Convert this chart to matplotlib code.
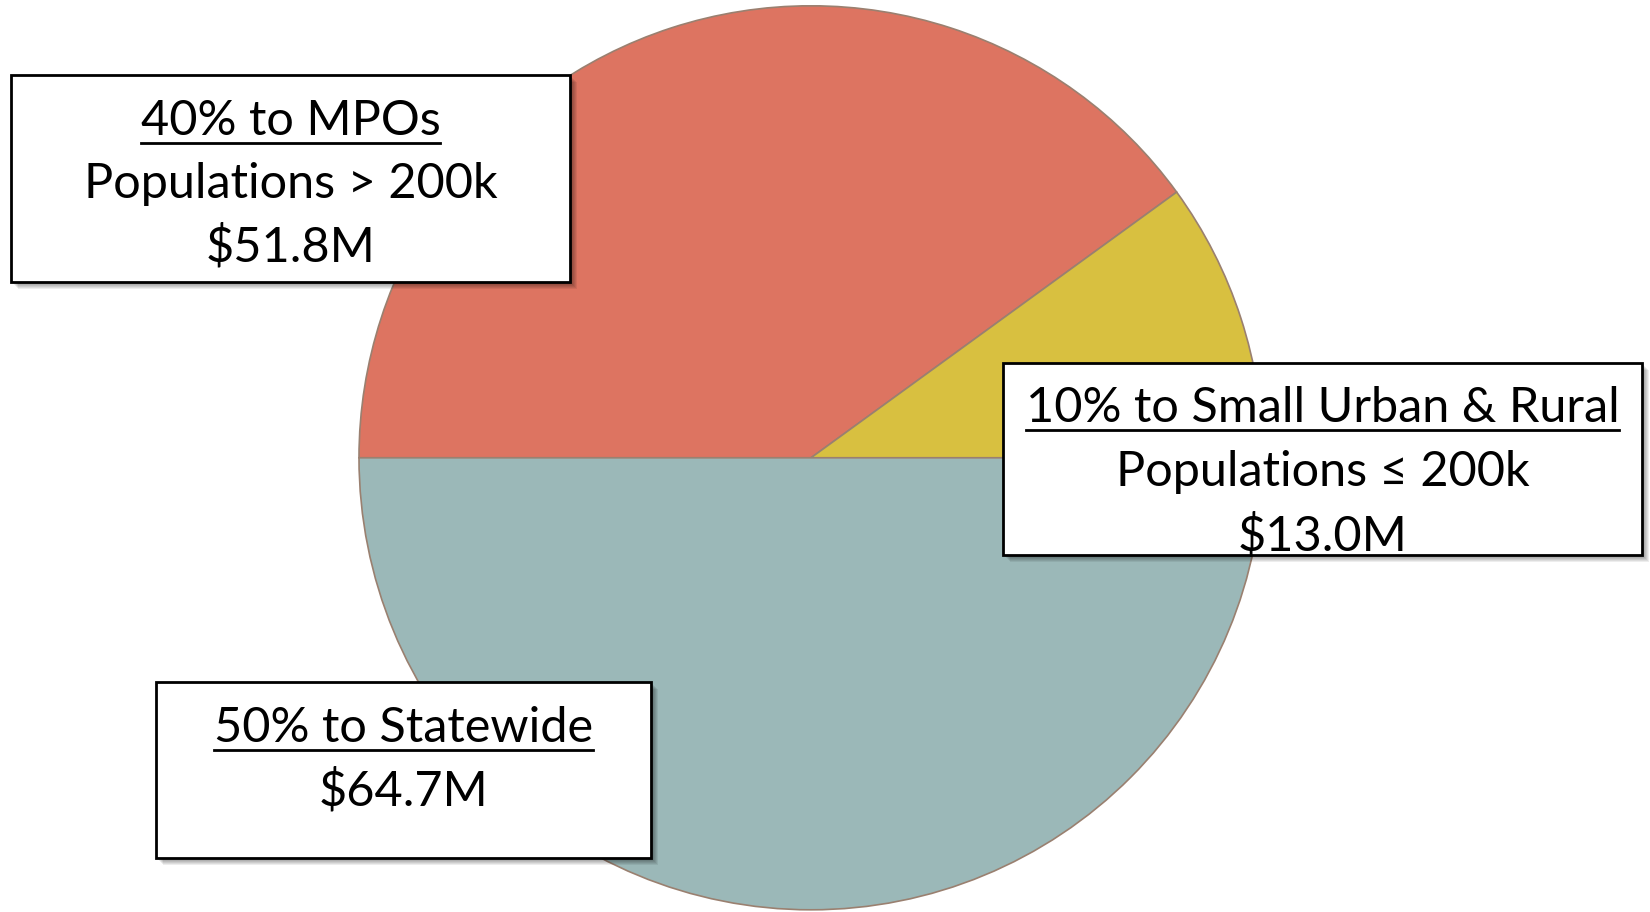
import matplotlib.pyplot as plt
from matplotlib.patches import Rectangle

# data
labels = ['MPOs', 'Small Urban & Rural', 'Statewide']
shares = [40, 10, 50]
colors = ['#DD7461', '#D8C040', '#9BB8B8']

headers = ['40% to MPOs', '10% to Small Urban & Rural', '50% to Statewide']
details = [['Populations > 200k', '$51.8M'],
           ['Populations \u2264 200k', '$13.0M'],
           ['$64.7M']]

W, H = 1650, 912
fig = plt.figure(figsize=(W / 100, H / 100 + 0.004), dpi=100)
ax = fig.add_axes([0, 0, 1, 1])

ax.pie(shares, colors=colors, startangle=180, counterclock=False,
       center=(811, H - 458), radius=452,
       wedgeprops=dict(edgecolor='#9a8070', linewidth=1.2))
ax.set_xlim(0, W)
ax.set_ylim(0, H)
ax.set_aspect('equal')
ax.axis('off')

# label boxes: x0, y0(top), x1, y1(bottom) in pixel coords from top
boxes = [(11, 75, 570, 282), (1003, 363, 1642, 555), (156, 682, 651, 858)]
line_y = [[121, 184, 247], [408, 472, 536], [728, 791]]
fam = ['Lato', 'DejaVu Sans']

for (x0, y0, x1, y1), head, det, ys in zip(boxes, headers, details, line_y):
    for k in range(1, 8):
        ax.add_patch(Rectangle((x0 + k, H - y1 - k), x1 - x0, y1 - y0,
                               facecolor='black', edgecolor='none',
                               alpha=0.07, zorder=3))
    ax.add_patch(Rectangle((x0, H - y1), x1 - x0, y1 - y0, facecolor='white',
                           edgecolor='black', linewidth=2, zorder=4))
    cx = (x0 + x1) / 2
    t = ax.text(cx, H - ys[0], head, ha='center', va='center', fontsize=35,
                family=fam, zorder=6)
    fig.canvas.draw()
    bb = t.get_window_extent().transformed(ax.transData.inverted())
    uy = H - ys[0] - 22
    ax.plot([bb.x0, bb.x1], [uy, uy], color='black', linewidth=2, zorder=6)
    for s, y in zip(det, ys[1:]):
        ax.text(cx, H - y, s, ha='center', va='center', fontsize=35,
                family=fam, zorder=6)

fig.savefig('out.png', dpi=100)
